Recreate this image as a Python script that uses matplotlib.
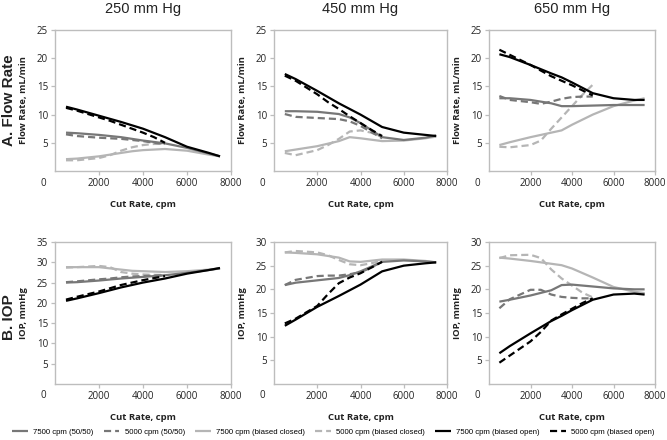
import matplotlib.pyplot as plt
import numpy as np

# cut rates (cpm) at which the curves were read
x_7500 = [500, 1000, 2000, 3000, 3500, 4000, 5000, 6000, 7000, 7500]
x_5000 = [500, 1000, 2000, 2500, 3000, 3500, 4000, 4500, 5000]

pressures = ["250 mm Hg", "450 mm Hg", "650 mm Hg"]
row_labels = ["A. Flow Rate", "B. IOP"]
y_labels = ["Flow Rate, mL/min", "IOP, mmHg"]
y_max = [[25, 25, 25], [35, 30, 30]]

legend_labels = ["7500 cpm (50/50)", "5000 cpm (50/50)",
                 "7500 cpm (biased closed)", "5000 cpm (biased closed)",
                 "7500 cpm (biased open)", "5000 cpm (biased open)"]

# flow rate, 250 mm Hg
flow250_mid_7500 = [6.8, 6.7, 6.4, 6.0, 5.7, 5.4, 4.9, 4.1, 3.1, 2.6]
flow250_mid_5000 = [6.5, 6.2, 5.9, 5.8, 5.7, 5.5, 5.3, 5.0, 4.8]
flow250_closed_7500 = [2.1, 2.2, 2.6, 3.2, 3.5, 3.7, 3.9, 3.6, 2.9, 2.6]
flow250_closed_5000 = [1.9, 1.9, 2.3, 2.8, 3.6, 4.2, 4.6, 4.8, 4.8]
flow250_open_7500 = [11.4, 10.9, 9.8, 8.7, 8.1, 7.5, 6.0, 4.3, 3.2, 2.6]
flow250_open_5000 = [11.2, 10.7, 9.5, 8.9, 8.2, 7.5, 6.8, 6.0, 5.0]

# flow rate, 450 mm Hg
flow450_mid_7500 = [10.6, 10.6, 10.5, 10.1, 9.5, 8.5, 6.0, 5.5, 5.9, 6.3]
flow450_mid_5000 = [10.1, 9.6, 9.4, 9.3, 9.2, 8.8, 8.0, 6.9, 5.8]
flow450_closed_7500 = [3.5, 3.8, 4.4, 5.3, 6.0, 5.8, 5.3, 5.4, 5.8, 6.1]
flow450_closed_5000 = [3.2, 2.8, 3.7, 4.6, 5.7, 7.0, 7.2, 6.8, 6.0]
flow450_open_7500 = [17.2, 16.3, 14.2, 12.0, 11.0, 10.0, 7.8, 6.8, 6.4, 6.2]
flow450_open_5000 = [16.9, 16.0, 13.6, 12.2, 11.0, 9.7, 8.5, 7.3, 6.2]

# flow rate, 650 mm Hg
flow650_mid_7500 = [12.9, 12.9, 12.6, 12.0, 11.5, 11.5, 11.6, 11.7, 11.7, 11.7]
flow650_mid_5000 = [13.3, 12.6, 12.2, 11.9, 12.3, 12.8, 13.1, 13.2, 13.2]
flow650_closed_7500 = [4.6, 5.1, 6.0, 6.8, 7.2, 8.2, 10.0, 11.5, 12.5, 12.9]
flow650_closed_5000 = [4.3, 4.2, 4.6, 5.4, 7.5, 9.5, 11.5, 13.5, 15.3]
flow650_open_7500 = [20.7, 20.2, 18.8, 17.3, 16.6, 15.7, 13.8, 12.9, 12.6, 12.6]
flow650_open_5000 = [21.5, 20.6, 18.8, 17.8, 16.8, 16.0, 15.2, 14.3, 13.4]

# IOP, 250 mm Hg
iop250_mid_7500 = [25.0, 25.1, 25.5, 26.0, 26.2, 26.4, 26.8, 27.4, 28.1, 28.5]
iop250_mid_5000 = [25.1, 25.3, 25.8, 26.0, 26.3, 26.5, 26.6, 26.7, 26.8]
iop250_closed_7500 = [28.8, 28.8, 28.8, 28.2, 27.9, 27.8, 27.6, 27.8, 28.2, 28.5]
iop250_closed_5000 = [28.7, 28.8, 29.1, 28.8, 27.6, 27.2, 27.0, 26.9, 26.9]
iop250_open_7500 = [20.5, 21.1, 22.4, 23.8, 24.4, 25.0, 26.0, 27.2, 28.1, 28.6]
iop250_open_5000 = [20.8, 21.5, 22.8, 23.6, 24.4, 25.0, 25.6, 26.1, 26.6]

# IOP, 450 mm Hg
iop450_mid_7500 = [20.9, 21.4, 21.9, 22.4, 23.0, 23.8, 25.8, 26.1, 25.9, 25.7]
iop450_mid_5000 = [20.9, 22.0, 22.8, 22.9, 22.9, 23.2, 23.6, 24.6, 25.9]
iop450_closed_7500 = [27.8, 27.7, 27.4, 26.7, 25.9, 25.8, 26.3, 26.3, 26.0, 25.7]
iop450_closed_5000 = [27.8, 28.1, 27.8, 27.2, 26.2, 25.3, 25.1, 25.5, 26.1]
iop450_open_7500 = [12.3, 13.6, 16.3, 18.6, 19.8, 21.0, 23.8, 25.0, 25.5, 25.7]
iop450_open_5000 = [12.8, 13.8, 16.5, 19.0, 21.3, 22.5, 23.4, 24.6, 25.8]

# IOP, 650 mm Hg
iop650_mid_7500 = [17.4, 17.8, 18.7, 19.8, 20.9, 21.0, 20.6, 20.2, 20.0, 20.0]
iop650_mid_5000 = [16.0, 17.9, 19.9, 19.9, 18.9, 18.4, 18.2, 18.1, 18.1]
iop650_closed_7500 = [26.7, 26.5, 26.0, 25.4, 25.1, 24.4, 22.5, 20.5, 19.5, 19.2]
iop650_closed_5000 = [26.6, 27.2, 27.3, 26.6, 24.2, 22.3, 20.8, 19.3, 18.3]
iop650_open_7500 = [6.5, 8.0, 10.7, 13.3, 14.4, 15.6, 17.8, 18.9, 19.1, 18.9]
iop650_open_5000 = [4.5, 6.0, 9.0, 11.0, 13.4, 14.7, 15.9, 17.1, 18.1]

panels = [
    [
        [flow250_mid_7500, flow250_mid_5000, flow250_closed_7500,
         flow250_closed_5000, flow250_open_7500, flow250_open_5000],
        [flow450_mid_7500, flow450_mid_5000, flow450_closed_7500,
         flow450_closed_5000, flow450_open_7500, flow450_open_5000],
        [flow650_mid_7500, flow650_mid_5000, flow650_closed_7500,
         flow650_closed_5000, flow650_open_7500, flow650_open_5000],
    ],
    [
        [iop250_mid_7500, iop250_mid_5000, iop250_closed_7500,
         iop250_closed_5000, iop250_open_7500, iop250_open_5000],
        [iop450_mid_7500, iop450_mid_5000, iop450_closed_7500,
         iop450_closed_5000, iop450_open_7500, iop450_open_5000],
        [iop650_mid_7500, iop650_mid_5000, iop650_closed_7500,
         iop650_closed_5000, iop650_open_7500, iop650_open_5000],
    ],
]

colors = ["#777777", "#777777", "#b5b5b5", "#b5b5b5", "#000000", "#000000"]
dashed = [False, True, False, True, False, True]
draw_order = [2, 3, 0, 1, 4, 5]

W, H = 667, 440
fig = plt.figure(figsize=(W / 100, H / 100), dpi=100)

tick_font = "Open Sans"
frame = "#bdbdbd"

# axes boxes in pixels: (left, right) per column, (top, bottom) per row
cols = [(55, 231), (274, 447), (489, 655)]
rows = [(30, 171), (242, 384)]

handles = []
for r in range(2):
    for c in range(3):
        x0, x1 = cols[c]
        t, b = rows[r]
        ax = fig.add_axes([x0 / W, 1 - b / H, (x1 - x0) / W, (b - t) / H])
        for i in draw_order:
            ys = panels[r][c][i]
            xs = x_5000 if dashed[i] else x_7500
            ln, = ax.plot(xs, ys, color=colors[i], lw=1.6,
                          solid_capstyle="butt", label=legend_labels[i])
            if dashed[i]:
                ln.set_dashes((3.2, 1.8))
            if r == 0 and c == 0:
                handles.append((i, ln))
        ax.set_xlim(0, 8000)
        ax.set_ylim(0, y_max[r][c])
        ax.set_xticks([2000, 4000, 6000, 8000])
        ax.set_xticklabels(["2000", "4000", "6000", "8000"])
        ax.set_yticks(np.arange(5, y_max[r][c] + 1, 5))
        ax.tick_params(axis="both", direction="out", length=3, width=0.9,
                       color=frame, labelsize=7, labelcolor="#222222", pad=2)
        for lab in ax.get_xticklabels() + ax.get_yticklabels():
            lab.set_fontfamily(tick_font)
        ax.text(-12 / (x1 - x0), -12 / (b - t), "0", transform=ax.transAxes,
                ha="center", va="center", fontsize=7, color="#222222",
                family=tick_font)
        for s in ax.spines.values():
            s.set_color(frame)
            s.set_linewidth(1.0)
        ax.set_xlabel("Cut Rate, cpm", fontsize=6.8, fontweight="bold",
                      family=tick_font, color="#222222")
        ax.xaxis.set_label_coords(0.5, -29 / (b - t))
        ax.set_ylabel(y_labels[r], fontsize=6.8, fontweight="bold",
                      family=tick_font, color="#222222")
        ax.yaxis.set_label_coords(-27 / (x1 - x0), 0.5)
        if r == 0:
            fig.text((x0 + x1) / 2 / W, 1 - 9 / H, pressures[c],
                     ha="center", va="center", fontsize=10.5,
                     family="Liberation Sans", color="#222222")

fig.text(9 / W, 1 - 100 / H, row_labels[0], rotation=90, ha="center",
         va="center", fontsize=11, fontweight="bold", family="Liberation Sans",
         color="#222222")
fig.text(9 / W, 1 - 317 / H, row_labels[1], rotation=90, ha="center",
         va="center", fontsize=11, fontweight="bold", family="Liberation Sans",
         color="#222222")

handles = [h for _, h in sorted(handles, key=lambda t: t[0])]
fig.legend(handles=handles, labels=legend_labels, loc="center",
           bbox_to_anchor=(0.5, 1 - 432 / H), ncol=6, frameon=False,
           prop={"family": "Liberation Sans", "size": 5.6},
           handlelength=2.0, handletextpad=0.7, columnspacing=1.3,
           borderaxespad=0, borderpad=0)

fig.savefig("out.png", dpi=100)
